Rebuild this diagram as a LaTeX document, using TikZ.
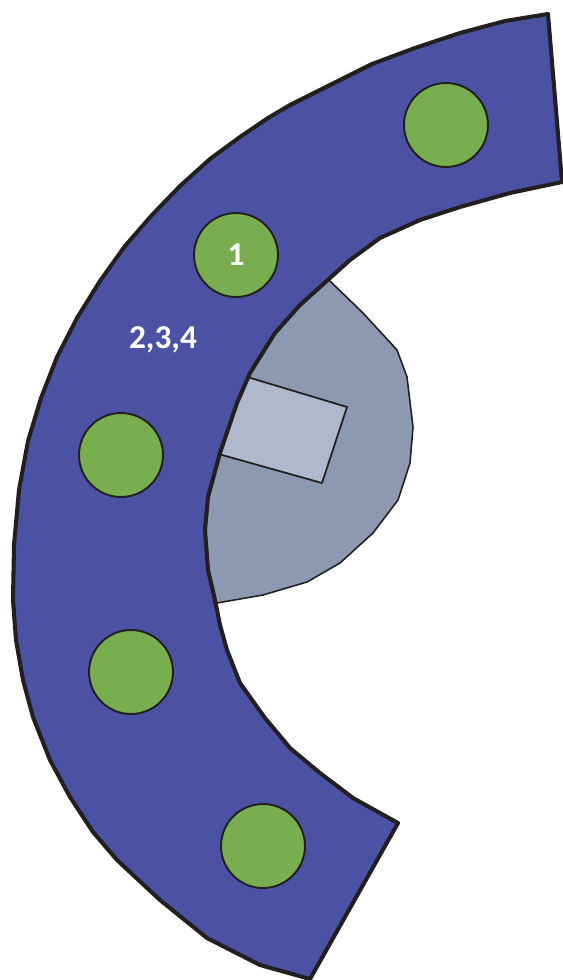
\documentclass[tikz,border=0pt]{standalone}
\usepackage{fontspec}
\setmainfont{Carlito}
\definecolor{bandblue}{RGB}{76,82,163}
\definecolor{seatgreen}{RGB}{121,174,80}
\definecolor{yardgray}{RGB}{140,153,176}
\definecolor{boxgray}{RGB}{176,184,204}
\definecolor{edge}{RGB}{35,31,32}
\tikzset{
  seat/.style={circle, draw=edge, line width=1.1pt, fill=seatgreen,
    minimum size=1.68cm, inner sep=0pt, text=white, font=\bfseries\fontsize{19}{19}\selectfont},
  tag/.style={text=white, font=\bfseries\fontsize{19}{19}\selectfont}
}

\begin{document}
\begin{tikzpicture}[x=0.02cm, y=-0.02cm, line join=round]
    \useasboundingbox (0,0) rectangle (563,980);
    % gray yard behind the band
    \draw[fill=yardgray, draw=edge, line width=0.9pt]
      (332,283) -- (363,313) -- (397,350) -- (407,377) -- (413,427) -- (410,463)
      -- (398,500) -- (373,533) -- (340,563) -- (307,582) -- (263,595) -- (217,603)
      -- (195,603) -- (200,450) -- (260,330) -- (320,270) -- cycle;
    \draw[fill=boxgray, draw=edge, line width=1pt]
      (244,376) -- (347,407) -- (322,483) -- (215,453) -- cycle;
    % the curved band
    \draw[fill=bandblue, draw=edge, line width=2.3pt]
      (548,14) -- (505,21) -- (460,33) -- (415,48) -- (372,64) -- (330,85)
      -- (290,105) -- (268,118) -- (240,137) -- (210,159) -- (180,186) -- (152,215)
      -- (125,246) -- (100,281) -- (77,318) -- (57,357) -- (41,398) -- (28,441)
      -- (19,490) -- (14,545) -- (13,600) -- (16,640) -- (23,680) -- (33,717)
      -- (50,760) -- (70,797) -- (93,832) -- (117,860) -- (160,900) -- (207,938)
      -- (260,965) -- (310,979) -- (398,823)
      -- (353,798) -- (320,773) -- (290,748) -- (265,718) -- (240,683) -- (227,650)
      -- (220,625) -- (215,600) -- (208,570) -- (205,530) -- (208,497) -- (220,453)
      -- (237,403) -- (250,373) -- (275,333) -- (300,305) -- (330,278) -- (350,260)
      -- (380,238) -- (420,220) -- (460,207) -- (510,193) -- (562,182) -- cycle;
    % seats
    \node[seat] (s0) at (446,125) {};
    \node[seat] (s1) at (236,255) {1};
    \node[seat] (s2) at (121,455) {};
    \node[seat] (s3) at (131,672) {};
    \node[seat] (s4) at (263,846) {};
    \node[tag]  (rest) at (163,340) {2,3,4};
  \end{tikzpicture}
\end{document}
